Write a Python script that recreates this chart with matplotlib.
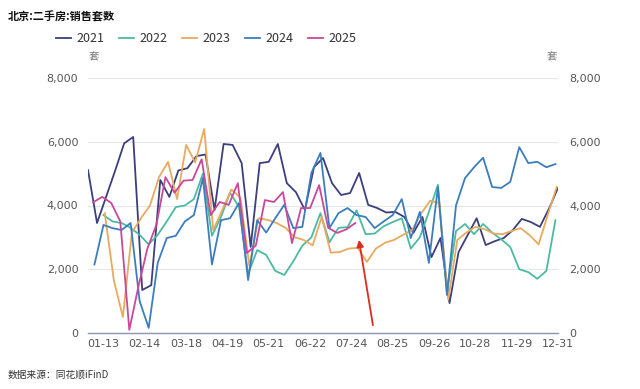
import matplotlib
matplotlib.use('Agg')
import matplotlib.pyplot as plt
import numpy as np
import datetime as dt

plt.rcParams['font.family'] = ['Noto Sans CJK SC', 'DejaVu Sans']

# weekly sales counts (套), first point's day-of-year per year
years = ['2021', '2022', '2023', '2024', '2025']
start_day = {'2021': 0, '2022': 12, '2023': 13, '2024': 5, '2025': 4}

v2021 = [5110, 3450, 4270, 5090, 5950, 6150, 1350, 1500, 4800, 4270, 5100, 5170, 5550,
         5600, 3860, 5930, 5900, 5330, 2700, 5330, 5370, 5930, 4700, 4420, 3860, 5200,
         5490, 4700, 4330, 4390, 5020, 4020, 3920, 3780, 3800, 3640, 3140, 3640, 2380,
         2980, 940, 2540, 3070, 3600, 2760, 2880, 2980, 3230, 3580, 3480, 3330, 3900, 4550]
v2022 = [3700, 3500, 3450, 3300, 3080, 2780, 3080, 3500, 3950, 4000, 4200, 5000, 3050,
         3640, 4400, 3950, 1850, 2600, 2450, 1950, 1820, 2250, 2740, 3000, 3760, 2850,
         3300, 3320, 3850, 3100, 3120, 3350, 3480, 3600, 2650, 3000, 3800, 4650, 1250,
         3200, 3420, 3100, 3420, 3150, 2940, 2700, 2000, 1910, 1700, 1950, 3540]
v2023 = [3760, 1660, 500, 3150, 3600, 4000, 4890, 5370, 4200, 5900, 5350, 6400, 3230,
         3860, 4500, 4250, 2100, 3600, 3550, 3450, 3300, 3000, 2920, 2750, 3640, 2520,
         2540, 2650, 2670, 2230, 2650, 2830, 2920, 3080, 3230, 3750, 4150, 4080, 1050,
         2920, 3150, 3330, 3260, 3120, 3100, 3200, 3290, 3070, 2780, 3700, 4580]
v2024 = [2150, 3390, 3290, 3230, 3450, 1000, 160, 2200, 2980, 3050, 3500, 3700, 4860,
         2150, 3540, 3600, 4080, 1660, 3540, 3150, 3600, 4020, 3290, 3330, 5020, 5650,
         3290, 3760, 3920, 3700, 3640, 3290, 3500, 3700, 4200, 2980, 3800, 2200, 4580,
         1190, 4000, 4860, 5200, 5500, 4580, 4550, 4740, 5830, 5330, 5370, 5200, 5300]
v2025 = [4100, 4270, 4080, 3500, 100, 1450, 2650, 3400, 4890, 4400, 4780, 4800, 5450,
         3700, 4110, 4020, 4700, 2510, 2750, 4170, 4110, 4420, 2820, 3920, 3920, 4640,
         3300, 3140, 3250, 3450]
values = {'2021': v2021, '2022': v2022, '2023': v2023, '2024': v2024, '2025': v2025}

colors = {'2021': '#3c3f7d', '2022': '#4cbaa2', '2023': '#e9aa5f',
          '2024': '#3d7dbd', '2025': '#c8489b'}

y_ticks = [0, 2000, 4000, 6000, 8000]
y_labels = ['0', '2,000', '4,000', '6,000', '8,000']
tick_days = list(range(12, 365, 32))
tick_labels = [(dt.date(2021, 1, 1) + dt.timedelta(days=d)).strftime('%m-%d') for d in tick_days]

fig = plt.figure(figsize=(6.4, 3.89), dpi=100)
ax = fig.add_axes([88 / 640, 1 - 333 / 389, 470 / 640, 255 / 389])

for y in years:
    vals = values[y]
    x = start_day[y] + 7 * np.arange(len(vals))
    ax.plot(x, vals, color=colors[y], lw=1.3, label=y)

ax.set_xlim(0, 364)
ax.set_ylim(0, 8000)
ax.set_yticks(y_ticks)
ax.set_yticklabels(y_labels, fontfamily='DejaVu Sans', fontsize=8)
ax.set_xticks(tick_days)
ax.set_xticklabels(tick_labels, fontfamily='DejaVu Sans', fontsize=8)
ax.tick_params(axis='both', length=0, colors='#555555')
ax.tick_params(axis='y', pad=7)
ax.tick_params(axis='x', pad=4.6)
ax.grid(axis='y', color='#e6e6e6', lw=0.8)
ax.set_axisbelow(True)
for s in ['top', 'right', 'left']:
    ax.spines[s].set_visible(False)
ax.spines['bottom'].set_color('#8e94b4')
ax.spines['bottom'].set_linewidth(1.0)

ax2 = ax.twinx()
ax2.set_ylim(0, 8000)
ax2.set_yticks(y_ticks)
ax2.set_yticklabels(y_labels, fontfamily='DejaVu Sans', fontsize=8)
ax2.tick_params(axis='y', length=0, colors='#555555', pad=8)
for s in ax2.spines.values():
    s.set_visible(False)

# red arrow annotation
ax.annotate('', xy=(209.5, 3010), xytext=(221, 160),
            arrowprops=dict(arrowstyle='-|>', color='#e02a1f', lw=1.3, mutation_scale=10))

fig.text(8 / 640, 1 - 17 / 389, '北京:二手房:销售套数', fontsize=8, fontweight='bold',
         va='center', ha='left', color='#111111')
fig.text(94 / 640, 1 - 57 / 389, '套', fontsize=7.5, color='#777777', ha='center', va='center')
fig.text(552 / 640, 1 - 57 / 389, '套', fontsize=7.5, color='#777777', ha='center', va='center')
fig.text(8 / 640, 1 - 375 / 389, '数据来源：同花顺iFinD', fontsize=7, color='#333333',
         ha='left', va='center')

fig.legend(loc='center left', bbox_to_anchor=(45 / 640, 1 - 39 / 389), ncol=5,
           frameon=False, fontsize=9, handlelength=1.2, handletextpad=0.4,
           columnspacing=1.2, labelcolor='#333333')

fig.savefig('out.png', dpi=100)
